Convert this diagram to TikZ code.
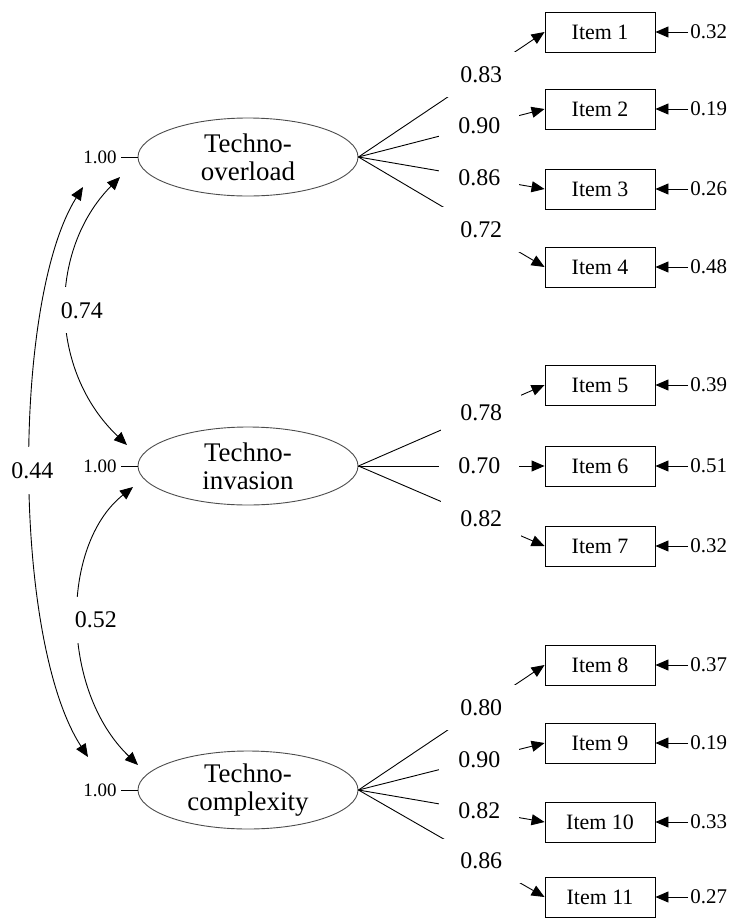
\documentclass[tikz,border=0pt]{standalone}
\usepackage{fontspec}
\setmainfont{Liberation Serif}
\usetikzlibrary{shapes.geometric,arrows.meta}

\tikzset{
  latent/.style={ellipse, draw=black!70, minimum width=220bp, minimum height=78bp,
    inner sep=0pt, align=center, font=\fontsize{27}{28}\selectfont},
  indicator/.style={draw, minimum width=110bp, minimum height=40bp, inner sep=0pt,
    font=\fontsize{22}{24}\selectfont},
  loadlab/.style={fill=white, inner xsep=19bp, inner ysep=14bp, font=\fontsize{24}{26}\selectfont},
  corrlab/.style={fill=white, inner xsep=3bp, inner ysep=15bp, font=\fontsize{24}{26}\selectfont},
  errlab/.style={anchor=west, inner xsep=2bp, font=\fontsize{21}{23}\selectfont},
  varlab/.style={anchor=east, inner xsep=4bp, font=\fontsize{19}{21}\selectfont},
  arr/.style={-{Triangle[length=13bp,width=11bp]}},
  dblarr/.style={{Triangle[length=13bp,width=11bp]}-{Triangle[length=13bp,width=11bp]}},
}

\begin{document}
\begin{tikzpicture}[x=1bp, y=-1bp, line width=0.9bp]
\useasboundingbox (0,0) rectangle (735,918);

% factores
\node[latent] (over) at (248,157) {Techno-\\overload};
\node[latent] (inva) at (248,466) {Techno-\\invasion};
\node[latent] (comp) at (248,790) {Techno-\\complexity};

% varianzas
\node[varlab] (v1) at (121,157) {1.00};
\node[varlab] (v2) at (121,466) {1.00};
\node[varlab] (v3) at (121,790) {1.00};
\draw (v1.east) -- (over.west);
\draw (v2.east) -- (inva.west);
\draw (v3.east) -- (comp.west);

% items
\node[indicator] (i1) at (600,32) {Item 1};
\node[indicator] (i2) at (600,109) {Item 2};
\node[indicator] (i3) at (600,189) {Item 3};
\node[indicator] (i4) at (600,267) {Item 4};
\node[indicator] (i5) at (600,385) {Item 5};
\node[indicator] (i6) at (600,466) {Item 6};
\node[indicator] (i7) at (600,546) {Item 7};
\node[indicator] (i8) at (600,665) {Item 8};
\node[indicator] (i9) at (600,743) {Item 9};
\node[indicator] (i10) at (600,822) {Item 10};
\node[indicator] (i11) at (600,897) {Item 11};

% errores
\node[errlab] (e1) at (688,32) {0.32};
\node[errlab] (e2) at (688,109) {0.19};
\node[errlab] (e3) at (688,189) {0.26};
\node[errlab] (e4) at (688,267) {0.48};
\node[errlab] (e5) at (688,385) {0.39};
\node[errlab] (e6) at (688,466) {0.51};
\node[errlab] (e7) at (688,546) {0.32};
\node[errlab] (e8) at (688,665) {0.37};
\node[errlab] (e9) at (688,743) {0.19};
\node[errlab] (e10) at (688,822) {0.33};
\node[errlab] (e11) at (688,897) {0.27};
\foreach \k in {1,...,11}
  \draw[arr] (e\k.west) -- (i\k.east);

% cargas
\draw[arr] (over.east) -- node[loadlab, pos=.66] {0.83} (i1.west);
\draw[arr] (over.east) -- node[loadlab, pos=.65] {0.90} (i2.west);
\draw[arr] (over.east) -- node[loadlab, pos=.65] {0.86} (i3.west);
\draw[arr] (over.east) -- node[loadlab, pos=.66] {0.72} (i4.west);

\draw[arr] (inva.east) -- node[loadlab, pos=.66] {0.78} (i5.west);
\draw[arr] (inva.east) -- node[loadlab, pos=.65] {0.70} (i6.west);
\draw[arr] (inva.east) -- node[loadlab, pos=.66] {0.82} (i7.west);

\draw[arr] (comp.east) -- node[loadlab, pos=.66] {0.80} (i8.west);
\draw[arr] (comp.east) -- node[loadlab, pos=.65] {0.90} (i9.west);
\draw[arr] (comp.east) -- node[loadlab, pos=.65] {0.82} (i10.west);
\draw[arr] (comp.east) -- node[loadlab, pos=.66] {0.86} (i11.west);

% correlaciones
\coordinate (c1a) at (120,177);
\coordinate (c2a) at (127,445);
\coordinate (c2b) at (133,487);
\coordinate (c3b) at (138,765);
\coordinate (c1c) at (83,187);
\coordinate (c3c) at (88,757);
\draw[dblarr] (c1a) .. controls (48,250) and (48,370) .. (c2a)
  node[corrlab, pos=.5, xshift=15bp] {0.74};
\draw[dblarr] (c2b) .. controls (60,545) and (60,690) .. (c3b)
  node[corrlab, pos=.5, xshift=17bp] {0.52};
\draw[dblarr] (c1c) .. controls (12,300) and (12,640) .. (c3c)
  node[corrlab, pos=.5, xshift=2bp] {0.44};

\end{tikzpicture}
\end{document}
